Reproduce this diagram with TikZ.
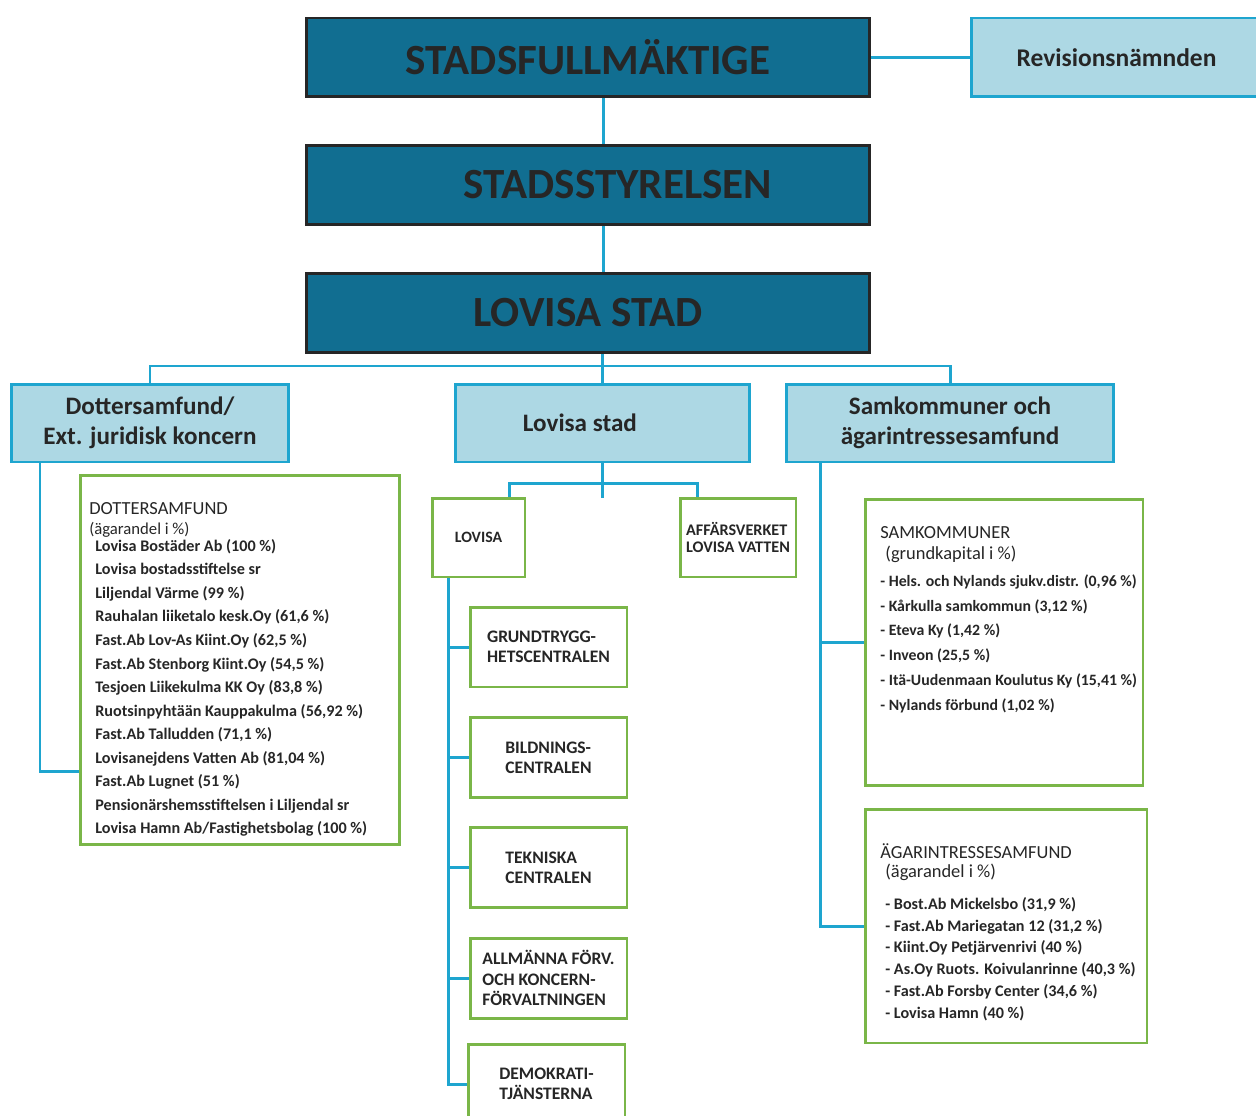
\documentclass[tikz,border=0pt]{standalone}
\usepackage{fontspec}
\setmainfont{Carlito}
\usetikzlibrary{positioning}

\definecolor{stadblue}{HTML}{116E91}
\definecolor{ljusblue}{HTML}{ADD8E4}
\definecolor{linjeblue}{HTML}{1EA5CF}
\definecolor{gron}{HTML}{7AB648}

\begin{document}
\begin{tikzpicture}[x=0.02cm, y=-0.02cm,
    topbox/.style={draw=black!85, line width=1.7pt, fill=stadblue, text=black!85,
        font=\fontsize{24.5}{27}\selectfont\bfseries, minimum width=11.28cm, minimum height=1.58cm},
    midbox/.style={draw=linjeblue, line width=1.7pt, fill=ljusblue, text=black!85,
        font=\fontsize{14.3}{17}\selectfont\bfseries, align=center, minimum height=1.56cm},
    unitbox/.style={draw=gron, line width=1.7pt, fill=white, text=black!85,
        font=\fontsize{10}{11.5}\selectfont\bfseries, align=left, minimum width=3.14cm, minimum height=1.6cm},
    listbox/.style={draw=gron, line width=1.7pt},
    link/.style={draw=linjeblue, line width=1.7pt},
    head/.style={anchor=north west, inner sep=0pt, text=black!85, font=\fontsize{10.5}{12}\selectfont},
    items/.style={anchor=north west, inner sep=0pt, align=left, text=black!85}]

\useasboundingbox (0,0) rectangle (1256,1115);

% top level
\node[topbox] (sfm) at (588,57.5) {STADSFULLMÄKTIGE};
\node[midbox, minimum width=5.82cm, minimum height=1.58cm, font=\fontsize{14.5}{17}\selectfont\bfseries] (rev) at (1116.5,57.5) {Revisionsnämnden};
\node[topbox] (sst) at (588,185) {\hspace*{34pt}STADSSTYRELSEN};
\node[topbox] (lst) at (588,313) {LOVISA STAD};

\coordinate (spine) at (603,0);
\draw[link] (sfm.east) -- (rev.west);
\draw[link] (sfm.south -| spine) -- (sst.north -| spine);
\draw[link] (sst.south -| spine) -- (lst.north -| spine);

% second level
\node[midbox, minimum width=5.56cm] (dot) at (150,423) {Dottersamfund/\\Ext. juridisk koncern};
\node[midbox, minimum width=5.9cm] (lov) at (602.5,423) {Lovisa stad\hspace*{1.8em}};
\node[midbox, minimum width=6.56cm] (samh) at (950,423) {Samkommuner och\\ägarintressesamfund};

\coordinate (bus) at (0,366);
\draw[link] (lst.south -| lov.north) -- (lov.north);
\draw[link] (dot.north) |- (samh.north |- bus) -- (samh.north);

% Lovisa stad
\node[unitbox, minimum width=1.86cm, minimum height=1.58cm, font=\fontsize{9}{10}\selectfont\bfseries] (lovisa) at (478.5,537.5) {LOVISA};
\node[unitbox, minimum width=2.32cm, minimum height=1.58cm, font=\fontsize{9.2}{9.8}\selectfont\bfseries] (affv) at (738,537.5) {AFFÄRSVERKET\\LOVISA VATTEN};

\coordinate (lk) at (509,483);
\coordinate (ak) at (697,0);
\draw[link] (lov.south) -- ++(0,35);
\draw[link] (lovisa.north -| lk) -- (lk) -- (ak |- lk) -- (affv.north -| ak);

\node[unitbox] (grund) at (548.5,647) {GRUNDTRYGG-\\HETSCENTRALEN};
\node[unitbox] (bild) at (548.5,757.5) {BILDNINGS-\\CENTRALEN};
\node[unitbox] (tek) at (548.5,867.5) {TEKNISKA\\CENTRALEN};
\node[unitbox] (allm) at (548.5,978) {ALLMÄNNA FÖRV.\\OCH KONCERN-\\FÖRVALTNINGEN};
\node[unitbox, minimum height=1.6cm] (demo) at (546.5,1084) {DEMOKRATI-\\TJÄNSTERNA};

\coordinate (lvl) at (448,0);
\draw[link] (lovisa.south -| lvl) |- (demo.west);
\foreach \enhet in {grund, bild, tek, allm}
    \draw[link] (lvl |- \enhet.west) -- (\enhet.west);

% dottersamfund
\node[listbox, minimum width=6.4cm, minimum height=7.4cm] (dotlist) at (240,660) {};
\coordinate (dy) at (0,771);
\coordinate (dl) at (40,0);
\draw[link] (dot.south -| dl) |- (dotlist.west |- dy);

\node[head] (dothead) at (89,502) {DOTTERSAMFUND};
\node[head, font=\fontsize{9.5}{10}\selectfont] (dotsub) at (89,522) {(ägarandel i \%)};
\node[items, font=\fontsize{9.2}{13.4}\selectfont\bfseries] (dotitems) at (95,539) {%
Lovisa Bostäder Ab (100 \%)\\
Lovisa bostadsstiftelse sr\\
Liljendal Värme (99 \%)\\
Rauhalan liiketalo kesk.Oy (61,6 \%)\\
Fast.Ab Lov-As Kiint.Oy (62,5 \%)\\
Fast.Ab Stenborg Kiint.Oy (54,5 \%)\\
Tesjoen Liikekulma KK Oy (83,8 \%)\\
Ruotsinpyhtään Kauppakulma (56,92 \%)\\
Fast.Ab Talludden (71,1 \%)\\
Lovisanejdens Vatten Ab (81,04 \%)\\
Fast.Ab Lugnet (51 \%)\\
Pensionärshemsstiftelsen i Liljendal sr\\
Lovisa Hamn Ab/Fastighetsbolag (100 \%)};

% samkommuner och aegarintressesamfund
\node[listbox, minimum width=5.56cm, minimum height=5.74cm] (samk) at (1004,642.5) {};
\node[listbox, minimum width=5.64cm, minimum height=4.68cm] (agar) at (1006,926) {};
\coordinate (sl) at (820,0);
\draw[link] (samh.south -| sl) |- (agar.west);
\draw[link] (sl |- samk.west) -- (samk.west);

\node[head] (samkhead) at (880,526) {SAMKOMMUNER};
\node[head] (samksub) at (885,546) {(grundkapital i \%)};
\node[items, font=\fontsize{9}{14.2}\selectfont\bfseries] (samkitems) at (880,574) {%
- Hels. och Nylands sjukv.distr. (0,96 \%)\\
- Kårkulla samkommun (3,12 \%)\\
- Eteva Ky (1,42 \%)\\
- Inveon (25,5 \%)\\
- Itä-Uudenmaan Koulutus Ky (15,41 \%)\\
- Nylands förbund (1,02 \%)};

\node[head] (agarhead) at (880,843) {ÄGARINTRESSESAMFUND};
\node[head] (agarsub) at (885,864) {(ägarandel i \%)};
\node[items, font=\fontsize{9.2}{12.4}\selectfont\bfseries] (agaritems) at (885,897) {%
- Bost.Ab Mickelsbo (31,9 \%)\\
- Fast.Ab Mariegatan 12 (31,2 \%)\\
- Kiint.Oy Petjärvenrivi (40 \%)\\
- As.Oy Ruots. Koivulanrinne (40,3 \%)\\
- Fast.Ab Forsby Center (34,6 \%)\\
- Lovisa Hamn (40 \%)};
\end{tikzpicture}
\end{document}
